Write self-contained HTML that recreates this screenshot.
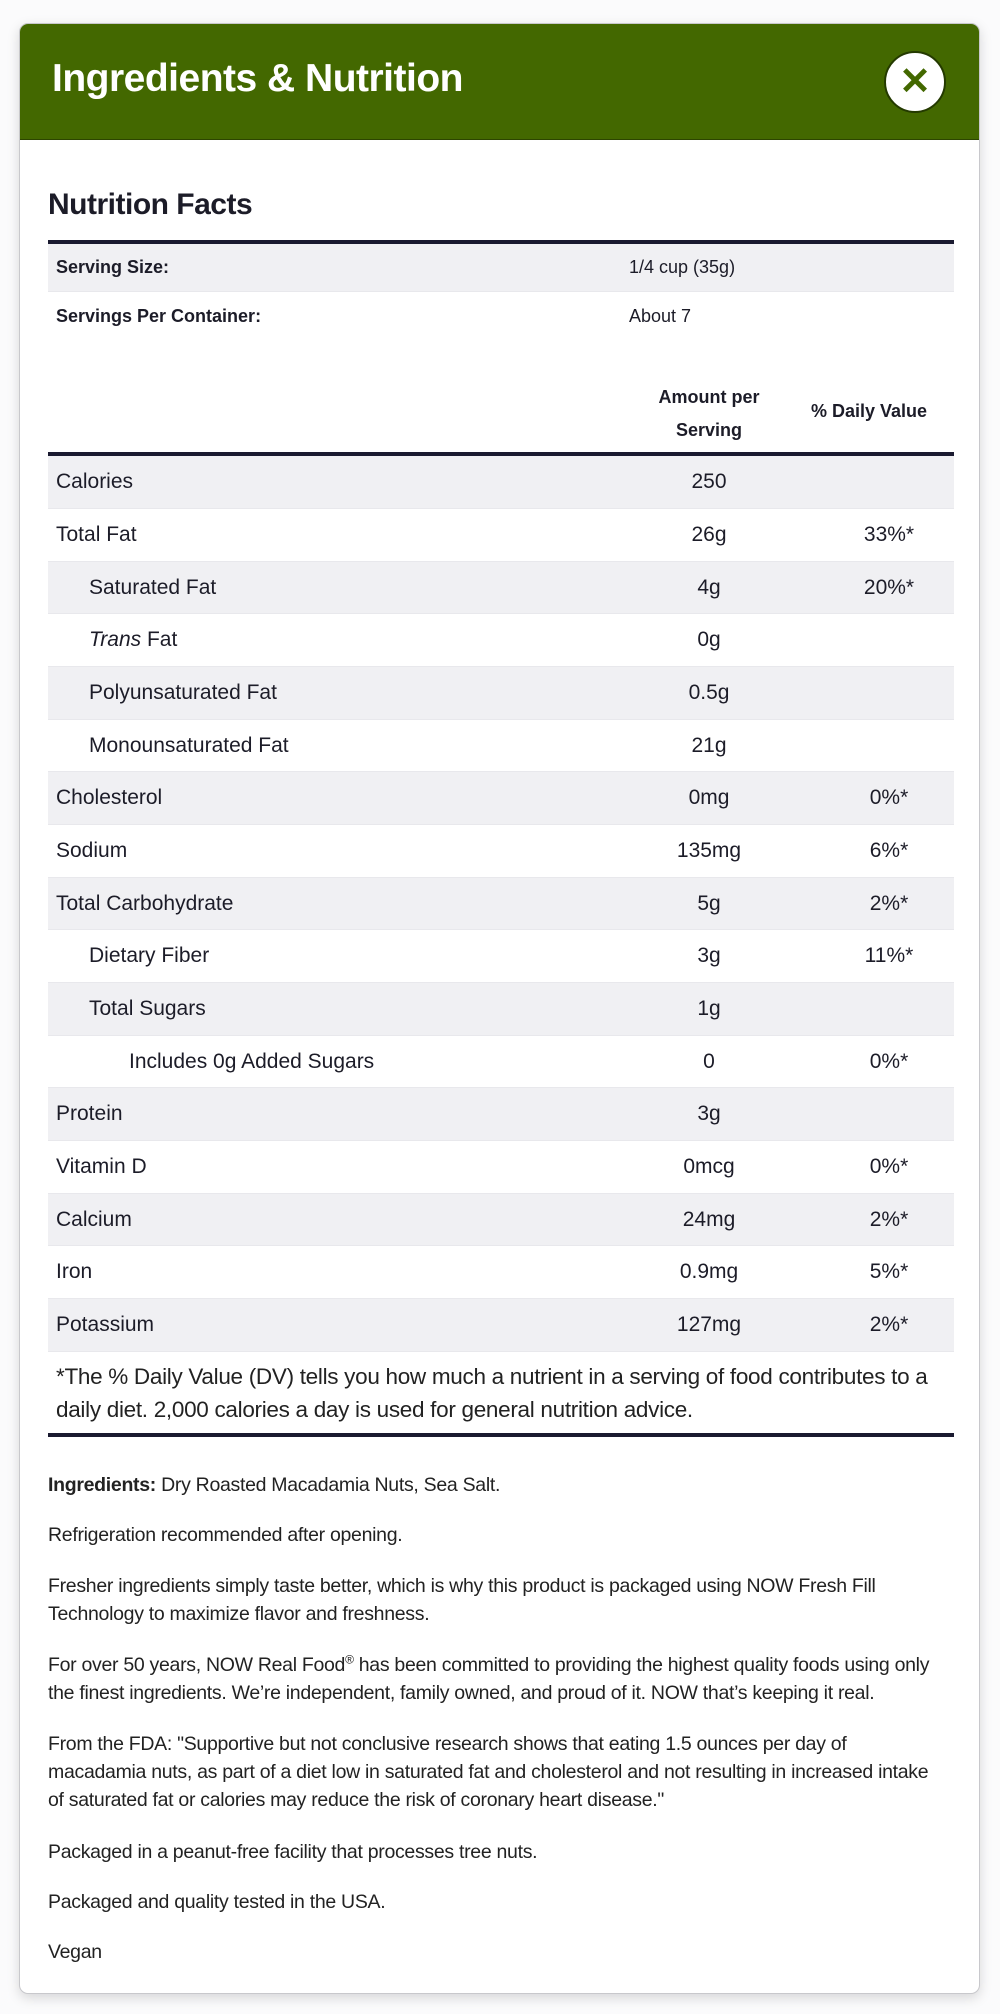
<!DOCTYPE html>
<html><head><meta charset="utf-8"><style>
*{box-sizing:border-box;margin:0;padding:0}
body{width:1000px;height:2014px;background:#fbfbfc;font-family:"Liberation Sans",sans-serif;color:#1c1c28;position:relative;overflow:hidden}
.panel{position:absolute;left:19px;top:23px;width:961px;height:1971px;background:#fff;border:1px solid #c8c8cc;border-radius:9px;box-shadow:0 4px 12px rgba(0,0,0,.15);overflow:hidden}
.hdr{position:absolute;left:0;top:0;width:100%;height:116px;background:#436800;border-bottom:1px solid #2d4500}
.hdr h1{position:absolute;left:32px;top:33px;font-size:39px;font-weight:bold;color:#fff;letter-spacing:-0.5px}
.close{position:absolute;left:864px;top:27px;width:62px;height:62px;border-radius:50%;background:#fff;border:2px solid #243a00;color:#436800;font-size:38px;font-weight:bold;text-align:center;line-height:58px}
.abs{position:absolute}
.nf{left:28px;top:164px;font-size:30px;font-weight:bold;letter-spacing:-0.5px}
.bar{position:absolute;left:28px;width:906px;height:4px;background:#1a1a30}
.row{position:absolute;left:28px;width:906px;font-size:21px;display:flex;align-items:center;border-bottom:1px solid #e8e8ec}
.row.g{background:#f0f0f3}
.row .l{position:absolute;left:8px}
.row .a{position:absolute;left:561px;width:200px;text-align:center}
.row .d{position:absolute;left:761px;width:160px;text-align:center}
.sv{font-size:18px}
.sv .l{font-weight:bold}
.sv .a{text-align:left;left:581px}
.txt{position:absolute;left:28px;font-size:19.5px;line-height:28px;white-space:nowrap;letter-spacing:-0.3px;color:#222}
sup{line-height:0;font-size:12px}
</style></head><body>
<div class="panel">
 <div class="hdr"><h1>Ingredients &amp; Nutrition</h1><div class="close">✕</div></div>
 <div class="abs nf">Nutrition Facts</div>
 <div class="bar" style="top:216px"></div>
 <div class="row g sv" style="top:220px;height:48px"><span class="l">Serving Size:</span><span class="a">1/4 cup (35g)</span></div>
 <div class="row sv" style="top:268px;height:49px;border:none"><span class="l">Servings Per Container:</span><span class="a">About 7</span></div>
 <div class="abs" style="left:589px;top:357px;width:200px;text-align:center;font-size:18px;font-weight:bold;line-height:33px">Amount per<br>Serving</div>
 <div class="abs" style="left:769px;top:377px;width:160px;text-align:center;font-size:18px;font-weight:bold">% Daily Value</div>
 <div class="bar" style="top:428px"></div>
 <div class="row g" style="top:432px;height:53px"><span class="l">Calories</span><span class="a">250</span><span class="d"></span></div>
 <div class="row" style="top:485px;height:53px"><span class="l">Total Fat</span><span class="a">26g</span><span class="d">33%*</span></div>
 <div class="row g" style="top:538px;height:52px"><span class="l" style="left:41px">Saturated Fat</span><span class="a">4g</span><span class="d">20%*</span></div>
 <div class="row" style="top:590px;height:53px"><span class="l" style="left:41px"><i>Trans</i> Fat</span><span class="a">0g</span></div>
 <div class="row g" style="top:643px;height:53px"><span class="l" style="left:41px">Polyunsaturated Fat</span><span class="a">0.5g</span></div>
 <div class="row" style="top:696px;height:52px"><span class="l" style="left:41px">Monounsaturated Fat</span><span class="a">21g</span></div>
 <div class="row g" style="top:748px;height:53px"><span class="l">Cholesterol</span><span class="a">0mg</span><span class="d">0%*</span></div>
 <div class="row" style="top:801px;height:53px"><span class="l">Sodium</span><span class="a">135mg</span><span class="d">6%*</span></div>
 <div class="row g" style="top:854px;height:52px"><span class="l">Total Carbohydrate</span><span class="a">5g</span><span class="d">2%*</span></div>
 <div class="row" style="top:906px;height:53px"><span class="l" style="left:41px">Dietary Fiber</span><span class="a">3g</span><span class="d">11%*</span></div>
 <div class="row g" style="top:959px;height:53px"><span class="l" style="left:41px">Total Sugars</span><span class="a">1g</span></div>
 <div class="row" style="top:1012px;height:52px"><span class="l" style="left:81px">Includes 0g Added Sugars</span><span class="a">0</span><span class="d">0%*</span></div>
 <div class="row g" style="top:1064px;height:53px"><span class="l">Protein</span><span class="a">3g</span></div>
 <div class="row" style="top:1117px;height:53px"><span class="l">Vitamin D</span><span class="a">0mcg</span><span class="d">0%*</span></div>
 <div class="row g" style="top:1170px;height:52px"><span class="l">Calcium</span><span class="a">24mg</span><span class="d">2%*</span></div>
 <div class="row" style="top:1222px;height:53px"><span class="l">Iron</span><span class="a">0.9mg</span><span class="d">5%*</span></div>
 <div class="row g" style="top:1275px;height:53px"><span class="l">Potassium</span><span class="a">127mg</span><span class="d">2%*</span></div>
 <div class="txt" style="left:36px;top:1336px;font-size:22.5px;line-height:33px;letter-spacing:-0.3px">*The % Daily Value (DV) tells you how much a nutrient in a serving of food contributes to a<br>daily diet. 2,000 calories a day is used for general nutrition advice.</div>
 <div class="bar" style="top:1409px"></div>
 <div class="txt" style="top:1447px"><b>Ingredients:</b> Dry Roasted Macadamia Nuts, Sea Salt.</div>
 <div class="txt" style="top:1497px">Refrigeration recommended after opening.</div>
 <div class="txt" style="top:1548px">Fresher ingredients simply taste better, which is why this product is packaged using NOW Fresh Fill<br>Technology to maximize flavor and freshness.</div>
 <div class="txt" style="top:1627px">For over 50 years, NOW Real Food<sup>®</sup> has been committed to providing the highest quality foods using only<br>the finest ingredients. We’re independent, family owned, and proud of it. NOW that’s keeping it real.</div>
 <div class="txt" style="top:1706px">From the FDA: "Supportive but not conclusive research shows that eating 1.5 ounces per day of<br>macadamia nuts, as part of a diet low in saturated fat and cholesterol and not resulting in increased intake<br>of saturated fat or calories may reduce the risk of coronary heart disease."</div>
 <div class="txt" style="top:1814px">Packaged in a peanut-free facility that processes tree nuts.</div>
 <div class="txt" style="top:1864px">Packaged and quality tested in the USA.</div>
 <div class="txt" style="top:1914px">Vegan</div>
</div>
</body></html>
